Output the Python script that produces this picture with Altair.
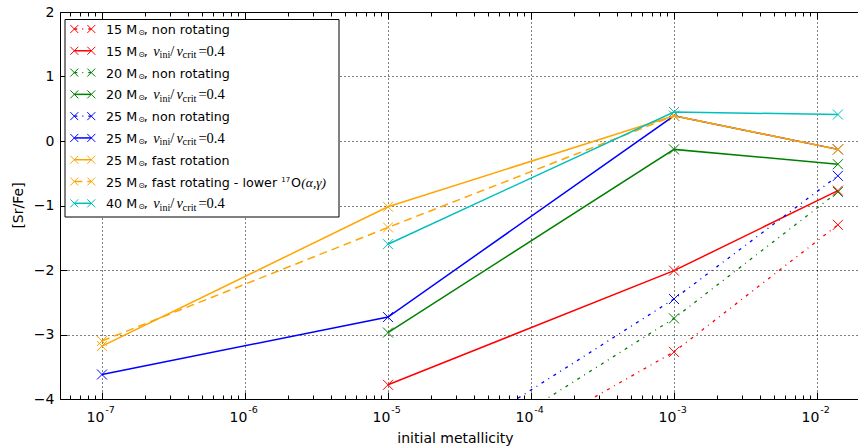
import altair as alt
import pandas as pd

# ---------------- data ----------------
Z4 = [1e-7, 1e-5, 1e-3, 0.014]
Z3 = [1e-5, 1e-3, 0.014]

sr_15_nonrot = [-5.79, -3.27, -1.30]
sr_15_rot = [-3.78, -2.01, -0.77]
sr_20_nonrot = [-5.55, -2.75, -0.79]
sr_20_rot = [-2.97, -0.13, -0.36]
sr_25_nonrot = [-5.27, -2.45, -0.54]
sr_25_rot = [-3.62, -2.73, 0.39, -0.13]
sr_25_fast = [-3.18, -1.02, 0.39, -0.13]
sr_25_fast_low17O = [-3.10, -1.34, 0.39, -0.13]
sr_40_rot = [-1.60, 0.45, 0.41]

DECADES = [1e-7, 1e-6, 1e-5, 1e-4, 1e-3, 1e-2]
DEC_SUP = ["-7", "-6", "-5", "-4", "-3", "-2"]
YTICKS = [-4, -3, -2, -1, 0, 1, 2]

LEG_MASS = ["15 M", "15 M", "20 M", "20 M", "25 M", "25 M", "25 M", "25 M", "40 M"]
LEG_SUFFIX = [", non rotating", ",", ", non rotating", ",", ", non rotating", ",",
              ", fast rotation", ", fast rotating - lower", ","]
LEG_VROT = [False, True, False, True, False, True, False, False, True]

RED, GREEN, BLUE, ORANGE, CYAN = "#ff0000", "#008000", "#0000ff", "#ffa500", "#00bfbf"
DASHDOT = [3, 5, 1, 5]
DASHED = [8, 5]

series = [
    (Z3, sr_15_nonrot, RED, "dashdot"),
    (Z3, sr_15_rot, RED, "solid"),
    (Z3, sr_20_nonrot, GREEN, "dashdot"),
    (Z3, sr_20_rot, GREEN, "solid"),
    (Z3, sr_25_nonrot, BLUE, "dashdot"),
    (Z4, sr_25_rot, BLUE, "solid"),
    (Z4, sr_25_fast, ORANGE, "solid"),
    (Z4, sr_25_fast_low17O, ORANGE, "dashed"),
    (Z3, sr_40_rot, CYAN, "solid"),
]
DASHES = {"solid": None, "dashdot": DASHDOT, "dashed": DASHED}

# ---------------- layout ----------------
W, H = 798, 387
XMIN, XMAX = 10 ** -7.2937, 10 ** -1.7133
FONT = "DejaVu Sans"
SERIF = "Liberation Serif"
XPATH = "M-1,-1L1,1M-1,1L1,-1"

xs = alt.Scale(type="log", domain=[XMIN, XMAX], nice=False)
ys = alt.Scale(domain=[-4, 2], nice=False, zero=False)

MINOR = []
for k in range(-8, -1):
    for m in range(2, 10):
        v = m * 10.0 ** k
        if XMIN <= v <= XMAX:
            MINOR.append(v)

# ---------------- data layers ----------------
data_layers = []
for zs, vals, col, style in series:
    df = pd.DataFrame({"z": zs, "v": vals})
    base = alt.Chart(df).encode(
        x=alt.X("z:Q", scale=xs, axis=None),
        y=alt.Y("v:Q", scale=ys, axis=None),
    )
    kw = dict(color=col, strokeWidth=1.5 if style != "dashdot" else 1.3, clip=True)
    if DASHES[style]:
        kw["strokeDash"] = DASHES[style]
    data_layers.append(base.mark_line(**kw))
    data_layers.append(base.mark_point(shape=XPATH, size=100, filled=False, color=col,
                                       strokeWidth=1, opacity=1, clip=True))

# ---------------- axes layers ----------------
dec_df = pd.DataFrame({"z": DECADES, "sup": DEC_SUP})
minor_df = pd.DataFrame({"z": MINOR})
ytick_df = pd.DataFrame({"v": YTICKS})

base_axis = dict(domainColor="black", domainWidth=1, tickColor="black", tickWidth=1,
                 labelColor="black", title="")


def xaxis(df, **kw):
    a = dict(base_axis)
    a.update(kw)
    return alt.Chart(df).mark_point(opacity=0).encode(
        x=alt.X("z:Q", scale=xs, axis=alt.Axis(**a)))


def yaxis(**kw):
    a = dict(base_axis)
    a.update(kw)
    return alt.Chart(ytick_df).mark_point(opacity=0).encode(
        y=alt.Y("v:Q", scale=ys, axis=alt.Axis(**a)))


grid_style = dict(grid=True, gridDash=[1, 3], gridColor="black", gridWidth=1, gridOpacity=1)

ax_layers = [
    xaxis(dec_df, orient="bottom", values=DECADES, domain=True, ticks=False, tickSize=0,
          labels=False, title="initial metallicity", titleX=395, titleY=43,
          titleBaseline="alphabetic", titleAlign="center", titleFont=FONT,
          titleFontSize=14, titleFontWeight="normal", titleColor="black", **grid_style),
    xaxis(dec_df, orient="bottom", values=DECADES, domain=False, ticks=True, tickSize=7,
          offset=-7, labels=False, grid=False),
    xaxis(minor_df, orient="bottom", values=MINOR, domain=False, ticks=True, tickSize=4,
          offset=-4, labels=False, grid=False),
    xaxis(dec_df, orient="top", values=DECADES, domain=True, ticks=False, tickSize=0,
          labels=False, grid=False),
    xaxis(dec_df, orient="top", values=DECADES, domain=False, ticks=True, tickSize=7,
          offset=-7, labels=False, grid=False),
    xaxis(minor_df, orient="top", values=MINOR, domain=False, ticks=True, tickSize=4,
          offset=-4, labels=False, grid=False),
    yaxis(orient="left", values=YTICKS, domain=True, ticks=False, tickSize=0,
          labels=True, labelPadding=6, labelFont=FONT, labelFontSize=14, labelFlush=False,
          labelOverlap=False, title="[Sr/Fe]", titleX=-42, titleY=193, titleAngle=270,
          titleAlign="center", titleBaseline="middle", titleFont=FONT, titleFontSize=14,
          titleFontWeight="normal", titleColor="black", **grid_style),
    yaxis(orient="left", values=YTICKS, domain=False, ticks=True, tickSize=7, offset=-7,
          labels=False, grid=False),
]

xlab_main = alt.Chart(dec_df).mark_text(
    text="10", align="left", baseline="alphabetic", dx=-15.5, fontSize=14, font=FONT,
    color="black").encode(x=alt.X("z:Q", scale=xs, axis=None), y=alt.value(H + 23.3))
xlab_sup = alt.Chart(dec_df).mark_text(
    align="left", baseline="alphabetic", dx=3.3, fontSize=9.5, font=FONT,
    color="black").encode(x=alt.X("z:Q", scale=xs, axis=None), y=alt.value(H + 14.3),
                          text="sup:N")

plot = alt.layer(*ax_layers, *data_layers, xlab_main, xlab_sup).resolve_axis(
    x="independent", y="independent")

# ---------------- legend ----------------
leg_df = pd.DataFrame({
    "row": list(range(9)),
    "mass": LEG_MASS,
    "suffix": LEG_SUFFIX,
    "vrot": LEG_VROT,
    "color": [s[2] for s in series],
    "style": [s[3] for s in series],
})
ry = alt.Y("row:Q", scale=alt.Scale(domain=[0, 8], range=[17, 191.3], nice=False, zero=False),
           axis=None)
lb = alt.Chart(leg_df).encode(y=ry)
col_enc = alt.Color("color:N", scale=None, legend=None)

leg_layers = [
    alt.Chart(pd.DataFrame({"a": [0]})).mark_rect(fill="white", stroke="black",
                                                 strokeWidth=1).encode(
        x=alt.value(5), x2=alt.value(279), y=alt.value(7.5), y2=alt.value(205)),
]
for style, dash in DASHES.items():
    kw = dict(strokeWidth=1.5 if style != "dashdot" else 1.3)
    if dash:
        kw["strokeDash"] = dash
    leg_layers.append(lb.transform_filter(alt.datum.style == style).mark_rule(**kw).encode(
        x=alt.value(14.3), x2=alt.value(31.3), color=col_enc))
for xp in (14.3, 31.3):
    leg_layers.append(lb.mark_point(shape=XPATH, size=64, filled=False, strokeWidth=1,
                                    opacity=1).encode(x=alt.value(xp), color=col_enc))

txt = dict(align="left", baseline="alphabetic", color="black")
leg_layers += [
    lb.mark_text(font=FONT, fontSize=12.7, dy=5, **txt).encode(x=alt.value(46), text="mass:N"),
    lb.mark_text(font=FONT, fontSize=8, dy=6, text="\u2299", **txt).encode(x=alt.value(78.3)),
    lb.mark_text(font=FONT, fontSize=12.7, dy=5, **txt).encode(x=alt.value(83.8),
                                                              text="suffix:N"),
]
vr = lb.transform_filter(alt.datum.vrot == True)
leg_layers += [
    vr.mark_text(font=SERIF, fontSize=14.5, fontStyle="italic", dy=5, text="v", **txt).encode(
        x=alt.value(93.3)),
    vr.mark_text(font=SERIF, fontSize=10, dy=7.5, text="ini", **txt).encode(x=alt.value(99.6)),
    vr.mark_text(font=SERIF, fontSize=14.5, dy=5, text="/", **txt).encode(x=alt.value(110.2)),
    vr.mark_text(font=SERIF, fontSize=14.5, fontStyle="italic", dy=5, text="v", **txt).encode(
        x=alt.value(116.6)),
    vr.mark_text(font=SERIF, fontSize=10.5, dy=7.5, text="crit", **txt).encode(
        x=alt.value(122.5)),
    vr.mark_text(font=SERIF, fontSize=14.5, dy=5, text="=0.4", **txt).encode(
        x=alt.value(138.4)),
]
r7 = lb.transform_filter(alt.datum.row == 7)
leg_layers += [
    r7.mark_text(font=FONT, fontSize=7, dy=0.5, text="17", **txt).encode(x=alt.value(221.3)),
    r7.mark_text(font=FONT, fontSize=12.7, dy=5, text="O", **txt).encode(x=alt.value(231)),
    r7.mark_text(font=SERIF, fontSize=13.5, fontStyle="italic", dy=5, text="(\u03b1,\u03b3)",
                 **txt).encode(x=alt.value(241.3)),
]
legend = alt.layer(*leg_layers)

chart = alt.layer(plot, legend).resolve_scale(y="independent", x="independent").resolve_axis(
    x="independent", y="independent").properties(
    width=W, height=H,
    autosize=alt.AutoSizeParams(type="none"),
    padding={"left": 60, "top": 12, "right": 0, "bottom": 48},
    background="white",
).configure(font=FONT).configure_view(stroke="transparent")

chart.save("out.html", embed_options={"renderer": "svg", "actions": False})
